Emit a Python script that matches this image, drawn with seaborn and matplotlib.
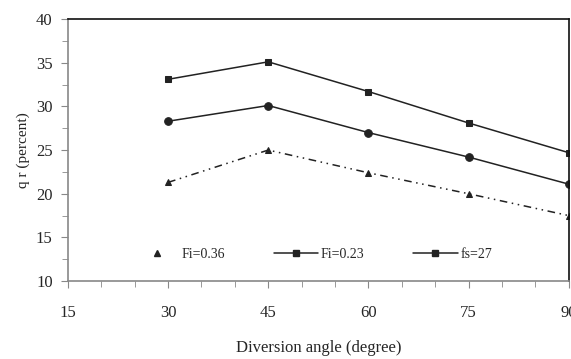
import matplotlib
matplotlib.use("Agg")
import matplotlib.pyplot as plt
import seaborn as sns
from matplotlib.lines import Line2D
from matplotlib.ticker import MultipleLocator

angles = [30, 45, 60, 75, 90]
fi_036 = [21.3, 25.0, 22.4, 20.0, 17.5]
fi_023 = [28.3, 30.1, 27.0, 24.2, 21.1]
fs_27 = [33.1, 35.1, 31.7, 28.1, 24.7]

x_ticks = [15, 30, 45, 60, 75, 90]
y_ticks = [10, 15, 20, 25, 30, 35, 40]
legend_labels = ['Fi=0.36', 'Fi=0.23', 'fs=27']

sns.set_style("white")
plt.rcParams['font.family'] = ['Liberation Serif', 'DejaVu Serif']

fig = plt.figure(figsize=(5.71, 3.59), dpi=100)
ax = fig.add_axes([0.119, 0.217, 0.877, 0.730])

ink = '#222222'
sns.lineplot(x=angles, y=fi_036, ax=ax, color=ink, lw=1.1,
             linestyle=(0, (5, 3, 1, 3, 1, 3)), marker='^', markersize=5,
             markeredgecolor=ink, legend=False)
sns.lineplot(x=angles, y=fi_023, ax=ax, color=ink, lw=1.1,
             marker='o', markersize=5.5, markeredgecolor=ink, legend=False)
sns.lineplot(x=angles, y=fs_27, ax=ax, color=ink, lw=1.1,
             marker='s', markersize=5, markeredgecolor=ink, legend=False)

ax.set_xlim(15, 90)
ax.set_ylim(10, 40)
ax.set_xticks(x_ticks)
ax.set_yticks(y_ticks)
ax.xaxis.set_minor_locator(MultipleLocator(5))
ax.yaxis.set_minor_locator(MultipleLocator(2.5))
ax.tick_params(axis='both', which='both', direction='out', color='#888888',
               labelsize=12, bottom=True, left=True)
ax.tick_params(axis='x', which='major', length=5, pad=12)
ax.tick_params(axis='x', which='minor', length=4)
ax.tick_params(axis='y', which='major', length=5, pad=6)
ax.tick_params(axis='y', which='minor', length=4)

for side in ['left', 'bottom']:
    ax.spines[side].set_color('#888888')
    ax.spines[side].set_linewidth(1.2)
for side in ['top', 'right']:
    ax.spines[side].set_color('#111111')
    ax.spines[side].set_linewidth(1.2)

ax.set_xlabel('Diversion angle (degree)', fontsize=12, labelpad=14)
ax.set_ylabel('q r (percent)', fontsize=11, labelpad=4)

# legend as in the source: marker only for the first, square markers for the rest
handles = [
    Line2D([], [], linestyle='none', marker='^', markersize=4, color=ink),
    Line2D([], [], color=ink, lw=1.1, marker='s', markersize=4.5),
    Line2D([], [], color=ink, lw=1.1, marker='s', markersize=4.5),
]
ax.legend(handles, legend_labels, loc='lower center', bbox_to_anchor=(0.49, 0.03),
          ncol=3, frameon=False, fontsize=10, handlelength=3.2,
          columnspacing=3.5, handletextpad=0.2)

fig.savefig('out.png', dpi=100)
